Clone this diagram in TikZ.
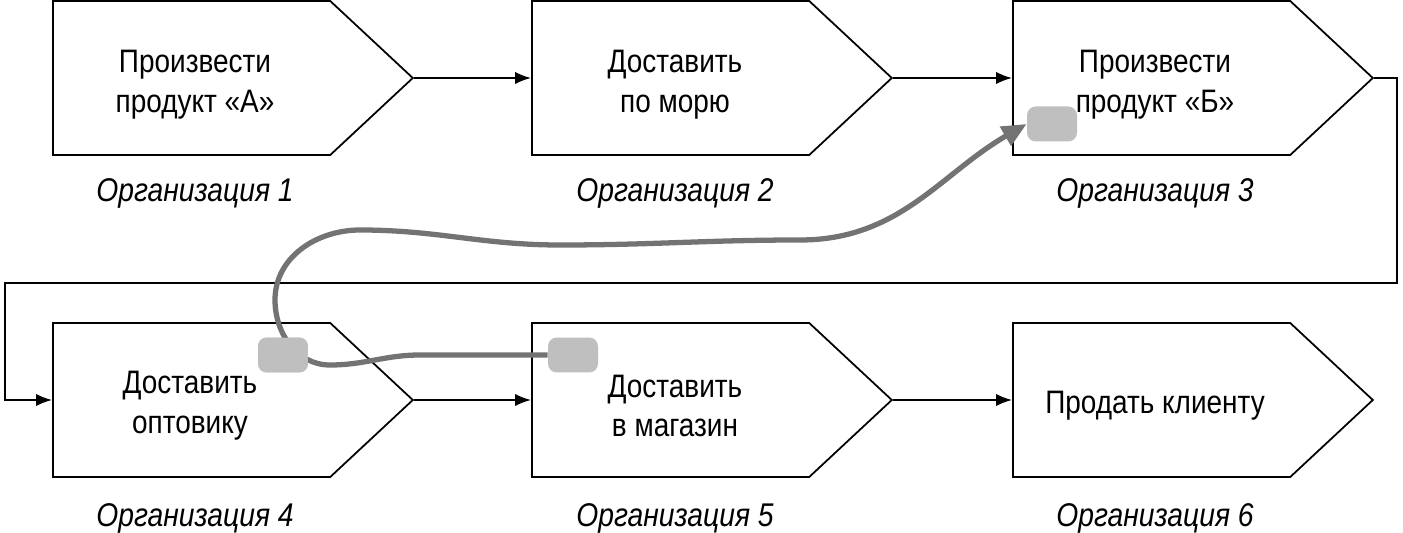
\documentclass[tikz,border=0pt]{standalone}
\usepackage{fontspec}
\setmainfont{Liberation Sans}[FakeStretch=0.86]
\usetikzlibrary{shapes.symbols,arrows.meta}
\tikzset{
  stage/.style={signal,signal to=east,draw,line width=1pt,minimum width=7.2cm,minimum height=3.08cm,
    signal pointer angle=86,inner sep=0pt,anchor=west},
  txt/.style={align=center,font=\fontsize{18.5}{22.7}\selectfont},
  org/.style={font=\fontsize{18.7}{20}\selectfont\itshape},
  flow/.style={line width=1pt,-{Latex[length=9pt,width=7pt]}},
  tag/.style={rounded corners=5pt,fill=black!25,minimum width=1cm,minimum height=0.7cm,inner sep=0pt},
}
\begin{document}
\begin{tikzpicture}[x=0.02cm,y=-0.02cm]
  \useasboundingbox (0,0) rectangle (1403,533);
  % stages
  \node[stage] (p1) at (52,78) {};
  \node[stage] (p2) at (531,78) {};
  \node[stage] (p3) at (1012,78) {};
  \node[stage] (p4) at (52,400) {};
  \node[stage] (p5) at (531,400) {};
  \node[stage] (p6) at (1012,400) {};
  \node[txt] (t1) at (195,85) {Произвести\\продукт «А»};
  \node[txt] (t2) at (675,85) {Доставить\\по морю};
  \node[txt] (t3) at (1155,85) {Произвести\\продукт «Б»};
  \node[txt] (t4) at (190,406) {Доставить\\оптовику};
  \node[txt] (t5) at (675,406) {Доставить\\в магазин};
  \node[txt] (t6) at (1155,406) {Продать клиенту};
  \node[org] (o1) at (195,193) {Организация 1};
  \node[org] (o2) at (675,193) {Организация 2};
  \node[org] (o3) at (1155,193) {Организация 3};
  \node[org] (o4) at (195,518) {Организация 4};
  \node[org] (o5) at (675,518) {Организация 5};
  \node[org] (o6) at (1155,518) {Организация 6};
  % connectors
  \draw[flow] (p1.east) -- (p2.west);
  \draw[flow] (p2.east) -- (p3.west);
  \draw[flow] (p4.east) -- (p5.west);
  \draw[flow] (p5.east) -- (p6.west);
  \coordinate (r1) at (1397,78);
  \coordinate (r2) at (1397,283);
  \coordinate (l1) at (5,283);
  \coordinate (l2) at (5,400);
  \draw[flow] (p3.east) -- (r1) -- (r2) -- (l1) -- (l2) -- (p4.west);
  % moving item
  \node[tag] (g1) at (283,355) {};
  \node[tag] (g2) at (573,355) {};
  \node[tag] (g3) at (1052,124) {};
  \draw[line width=3pt,black!55,-{Triangle[length=14pt,width=12pt]}]
    (g2.west) to[out=180,in=0] (420,355) to[out=180,in=0] (330,365)
    to[out=180,in=-90] (275,300) to[out=90,in=180] (360,230)
    to[out=0,in=180] (560,245) to[out=0,in=180] (800,240)
    to[out=0,in=-150] (g3.west);
  \node[tag] at (283,355) {};
\end{tikzpicture}
\end{document}
